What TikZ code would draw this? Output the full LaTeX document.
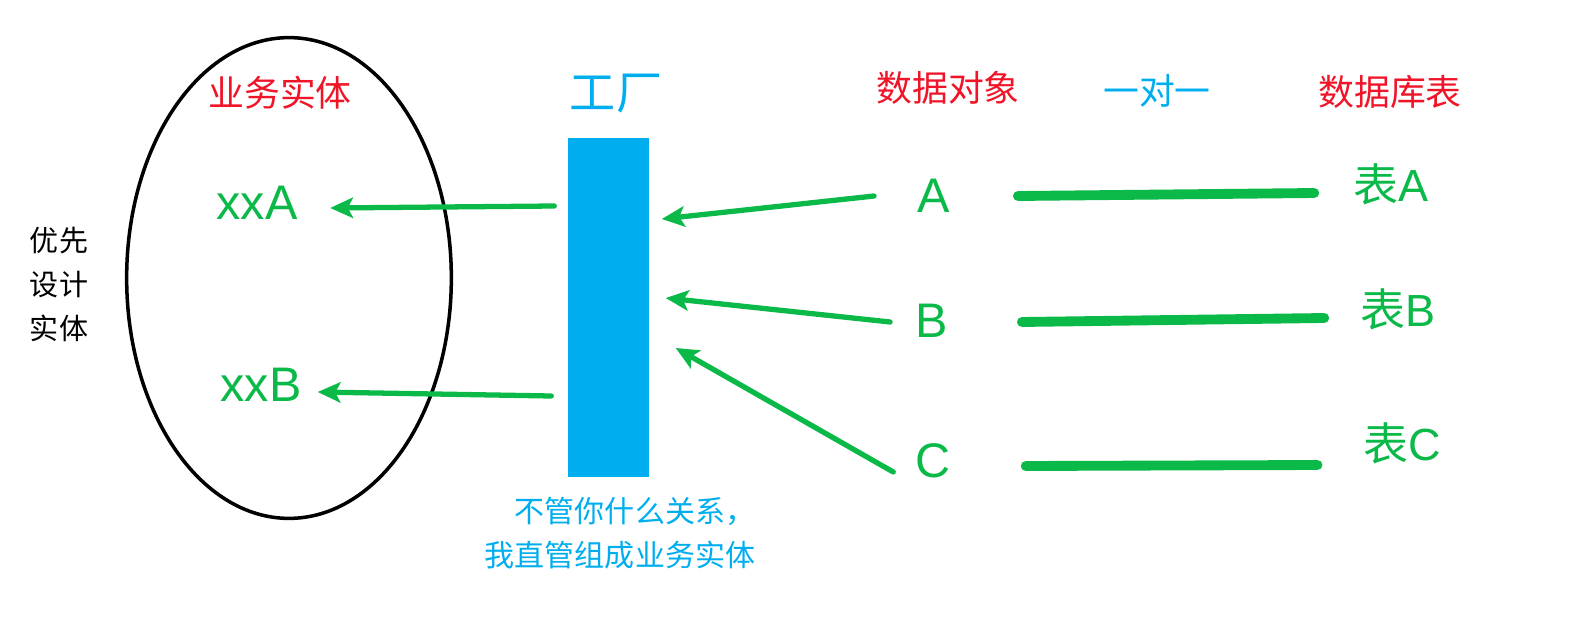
\documentclass[tikz,border=0pt]{standalone}
\usepackage{fontspec}
\setmainfont{Liberation Sans}
\newfontfamily\cjk{Noto Sans CJK SC}
\usetikzlibrary{positioning}
\usetikzlibrary{arrows.meta}
\usetikzlibrary{shapes.geometric}
\usetikzlibrary{calc}
\definecolor{grn}{RGB}{10,185,72}
\definecolor{fblue}{RGB}{0,174,239}
\definecolor{tred}{RGB}{240,20,40}
\tikzset{
  hdr/.style={font=\cjk\fontsize{10.2}{12}\selectfont, inner sep=0},
  item/.style={text=grn, font=\fontsize{13.8}{16}\selectfont, inner sep=0},
  tbl/.style={text=grn, font=\fontsize{12.8}{15}\selectfont, inner sep=0},
  arr/.style={-{Stealth[length=6.5pt,width=5.8pt,inset=1.5pt]}, grn, line width=1.5pt, line cap=round},
  link/.style={grn, line width=2.8pt, line cap=round}
}

\begin{document}
\begin{tikzpicture}[x=0.01cm, y=-0.01cm]
  \useasboundingbox (0,0) rectangle (1590,618);

  \node[draw, ellipse, line width=1pt, inner sep=0, minimum width=3.245cm, minimum height=4.805cm] (ent) at (289,278) {};
  \node[hdr, text=tred] (entT) at (280,93) {业务实体};
  \node[item] (xxA) at (257,203) {xxA};
  \node[item] (xxB) at (261,385) {xxB};
  \node[inner sep=0, align=center, font=\cjk\fontsize{8.25}{12.5}\selectfont] (first) at (59,284) {优先\\设计\\实体};

  \node[fill=fblue, inner sep=0, minimum width=0.81cm, minimum height=3.39cm] (fac) at (608.5,307.5) {};
  \node[inner sep=0, text=fblue, font=\cjk\fontsize{13.1}{15}\selectfont] (facT) at (616,94) {工厂};
  \node[inner sep=0, text=fblue, align=right, font=\cjk\fontsize{8.54}{12.5}\selectfont] (note) at (620,533) {不管你什么关系，\\我直管组成业务实体};

  \node[hdr, text=tred] (objT) at (948,88) {数据对象};
  \node[hdr, text=fblue] (oneT) at (1157,91) {一对一};
  \node[hdr, text=tred] (tblT) at (1390,92) {数据库表};

  \node[item] (A) at (934,196) {A};
  \node[item] (B) at (932,321) {B};
  \node[item] (C) at (933,461) {C};
  \node[tbl] (tA) at (1391,184) {{\cjk 表}A};
  \node[tbl] (tB) at (1398,309) {{\cjk 表}B};
  \node[tbl] (tC) at (1402,443) {{\cjk 表}C};

  \draw[arr] ($(fac.west)+(-13,-101.5)$) -- ($(xxA.east)+(32,5)$);
  \draw[arr] ($(fac.west)+(-16,88.5)$) -- ($(xxB.east)+(15.5,7)$);
  \draw[arr] ($(A.west)+(-43,0)$) -- ($(fac.east)+(12,-88.5)$);
  \draw[arr] ($(B.west)+(-25,1)$) -- ($(fac.east)+(16,-9.5)$);
  \draw[arr] ($(C.west)+(-21.5,11)$) -- ($(fac.east)+(26,40.5)$);

  \draw[link] ($(A.east)+(67,0)$) -- ($(tA.west)+(-38.5,9)$);
  \draw[link] ($(B.east)+(73,1)$) -- ($(tB.west)+(-35.5,9)$);
  \draw[link] ($(C.east)+(74.5,5)$) -- ($(tC.west)+(-45,22)$);

\end{tikzpicture}
\end{document}
